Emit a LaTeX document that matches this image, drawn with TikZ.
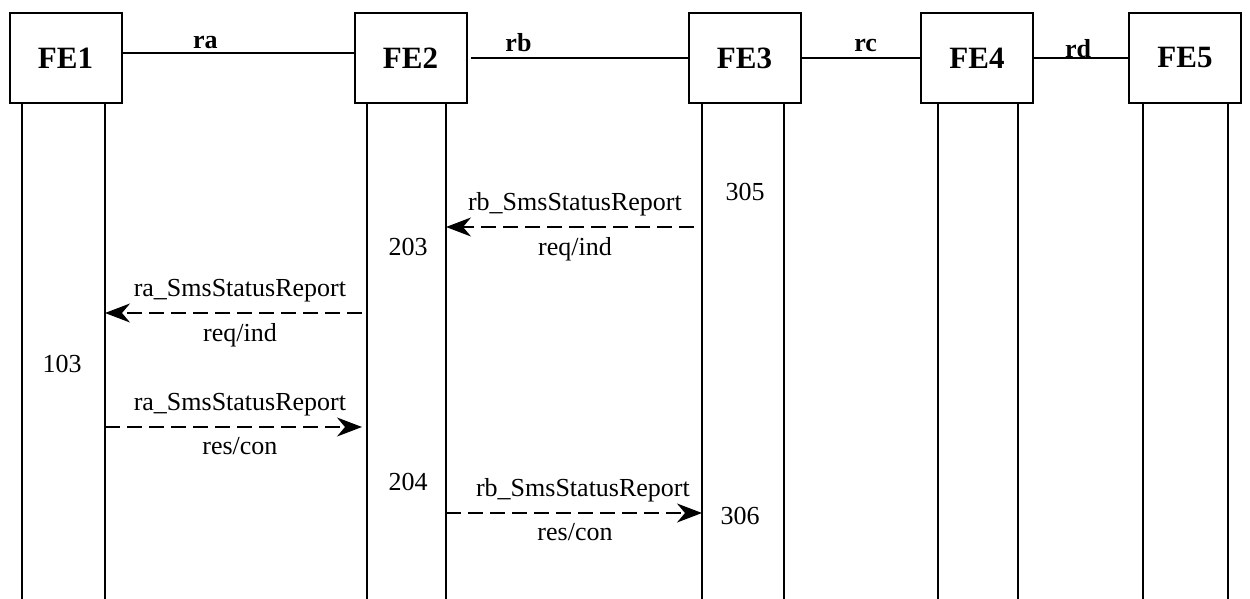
\documentclass[tikz,border=0pt]{standalone}
\usepackage{fontspec}
\setmainfont{Liberation Serif}
\usetikzlibrary{arrows.meta, positioning}

\begin{document}
\begin{tikzpicture}[
        x=1pt, y=-1pt,
        >={Stealth[length=25pt, width=19pt, inset=8pt]},
        every node/.style={
            font=\fontsize{26}{30}\selectfont,
            align=center
        },
        fe/.style={
            draw,
            line width=2pt,
            minimum width=112pt,
            minimum height=90pt,
            inner sep=0pt,
            outer sep=0pt,
            font=\fontsize{31}{36}\selectfont\bfseries
        },
        lien/.style={
            line width=1.8pt
        },
        lienlabel/.style={
            anchor=base,
            inner sep=0pt,
            font=\fontsize{26}{30}\selectfont\bfseries
        },
        vie/.style={
            line width=1.6pt
        },
        msg/.style={
            ->,
            line width=1.5pt,
            dash pattern=on 15pt off 7pt
        },
        haut/.style={above=8pt, inner sep=2pt},
        bas/.style={below=8pt, inner sep=2pt}
    ]

    \useasboundingbox (0,0) rectangle (1250,599);

    \node[fe] (fe1) at (65.5,58) {FE1};
    \node[fe, right=233pt of fe1] (fe2) {FE2};
    \node[fe, right=222pt of fe2] (fe3) {FE3};
    \node[fe, right=120.5pt of fe3] (fe4) {FE4};
    \node[fe, right=96pt of fe4] (fe5) {FE5};

    % liens entre entites
    \draw[lien] ([yshift=5pt]fe1.east) -- node[lienlabel, pos=0.36, yshift=4pt] {ra} ([yshift=5pt]fe2.west);
    \draw[lien] ([xshift=4pt]fe2.east) -- node[lienlabel, pos=0.22, yshift=6pt] {rb} (fe3.west);
    \draw[lien] (fe3.east) -- node[lienlabel, pos=0.54, yshift=6pt] {rc} (fe4.west);
    \draw[lien] (fe4.east) -- node[lienlabel, pos=0.47, yshift=0pt] {rd} (fe5.west);

    % lignes de vie
    \foreach \n/\a/\b in {fe1/-43.5/39.5, fe2/-43.5/35.5, fe3/-42.5/39.5, fe4/-39/41, fe5/-42/43} {
        \draw[vie] ([xshift=\a pt]\n.south) -- ++(0,496);
        \draw[vie] ([xshift=\b pt]\n.south) -- ++(0,496);
    }

    \coordinate (m1a) at (694,227);
    \coordinate (m1b) at (446,227);
    \coordinate (m2a) at (362,313);
    \coordinate (m2b) at (105,313);
    \coordinate (m3a) at (105,427);
    \coordinate (m3b) at (362,427);
    \coordinate (m4a) at (446,513);
    \coordinate (m4b) at (702,513);

    \draw[msg] (m1a) -- node[haut, pos=0.48] {rb\_SmsStatusReport} node[bas, pos=0.48] {req/ind} (m1b);
    \draw[msg] (m2a) -- node[haut, pos=0.475] {ra\_SmsStatusReport} node[bas, pos=0.475] {req/ind} (m2b);
    \draw[msg] (m3a) -- node[haut, pos=0.525] {ra\_SmsStatusReport} node[bas, pos=0.525] {res/con} (m3b);
    \draw[msg] (m4a) -- node[haut, pos=0.535] {rb\_SmsStatusReport} node[bas, pos=0.504] {res/con} (m4b);

    \node (n305) at (745,192) {305};
    \node (n203) at (408,247) {203};
    \node (n103) at (62,364) {103};
    \node (n204) at (408,482) {204};
    \node (n306) at (740,516) {306};

\end{tikzpicture}
\end{document}
